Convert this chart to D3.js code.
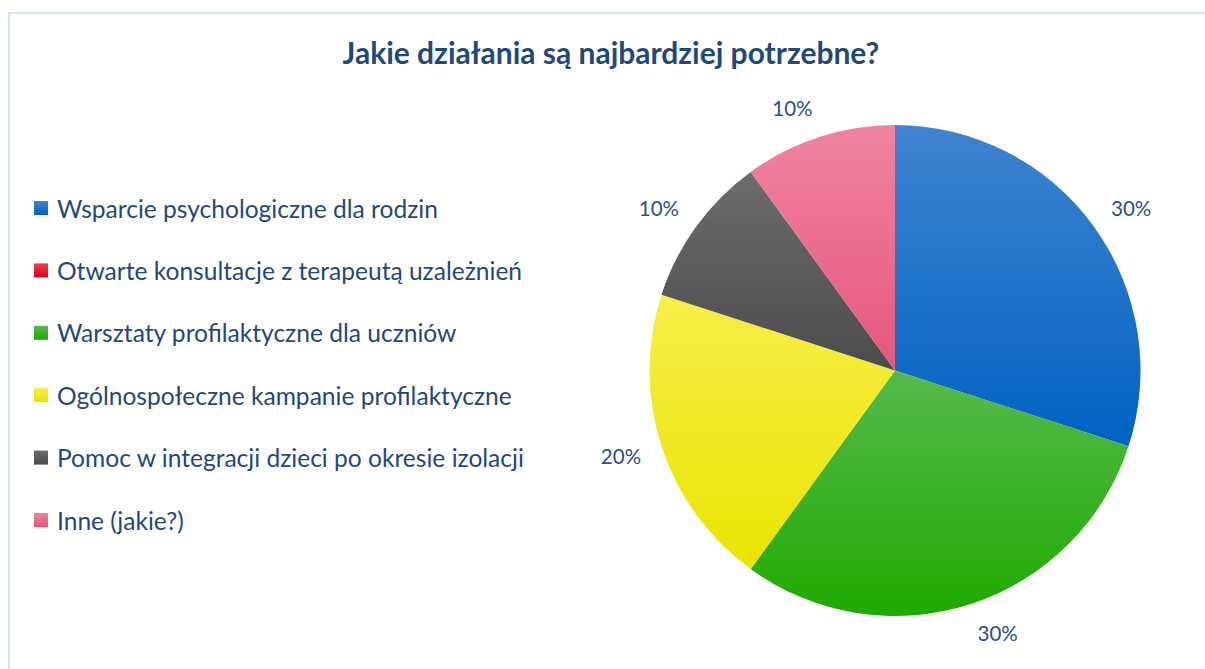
<!DOCTYPE html>
<html>
<head>
<meta charset="utf-8">
<script src="https://cdn.jsdelivr.net/npm/d3@7"></script>
<style>
  html, body { margin: 0; padding: 0; background: #fff; }
  svg { display: block; }
</style>
</head>
<body>
<svg id="chart" width="1205" height="669"></svg>
<script>
// Survey answers: "What actions are most needed?"
const categories = [
  "Wsparcie psychologiczne dla rodzin",
  "Otwarte konsultacje z terapeutą uzależnień",
  "Warsztaty profilaktyczne dla uczniów",
  "Ogólnospołeczne kampanie profilaktyczne",
  "Pomoc w integracji dzieci po okresie izolacji",
  "Inne (jakie?)"
];
const shares = [30, 0, 30, 20, 10, 10];
// Each slice: [light top, darker bottom]
const sliceColors = [
  ["#3f84d0", "#0063c2"],
  ["#f0404e", "#e00018"],
  ["#56ba4c", "#1faa00"],
  ["#f6ef48", "#ebe400"],
  ["#6c6c6c", "#4c4c4c"],
  ["#f0849e", "#e6567e"]
];
const title = "Jakie działania są najbardziej potrzebne?";

const W = 1205, H = 669;
const svg = d3.select("#chart");
const defs = svg.append("defs");

const textColor = "#1f497d";
const font = "Lato, 'Open Sans', sans-serif";

// Frame of the chart area
svg.append("path")
  .attr("d", `M9,${H} L9,13 L${W},13`)
  .attr("fill", "none")
  .attr("stroke", "#d4e3f6")
  .attr("stroke-width", 2);

// Title, fitted to its width
const titleEl = svg.append("text")
  .attr("x", 611).attr("y", 64)
  .attr("text-anchor", "middle")
  .attr("font-family", font)
  .attr("font-weight", 700)
  .attr("font-size", 26)
  .attr("fill", textColor)
  .text(title);
{
  const w = titleEl.node().getComputedTextLength();
  titleEl.attr("font-size", 26 * 537 / w);
}

// Gradients, one per slice
sliceColors.forEach((c, i) => {
  const g = defs.append("linearGradient")
    .attr("id", "grad" + i)
    .attr("x1", 0).attr("y1", 0).attr("x2", 0).attr("y2", 1);
  g.append("stop").attr("offset", "0%").attr("stop-color", c[0]);
  g.append("stop").attr("offset", "100%").attr("stop-color", c[1]);
});

// Pie
const cx = 895, cy = 370.5, R = 245.5;
const pie = d3.pie().sort(null).value(d => d.v);
const data = categories.map((name, i) => ({ name, v: shares[i], i }));
const arcs = pie(data);
const arc = d3.arc().innerRadius(0).outerRadius(R);

const gPie = svg.append("g").attr("transform", `translate(${cx},${cy})`);
gPie.selectAll("path")
  .data(arcs.filter(d => d.data.v > 0))
  .join("path")
  .attr("d", arc)
  .attr("fill", d => `url(#grad${d.data.i})`);

// Outside-end percentage labels
const total = d3.sum(shares);
const labelFmt = d3.format(".0%");
arcs.filter(d => d.data.v > 0).forEach(d => {
  const a = (d.startAngle + d.endAngle) / 2;
  const t = gPie.append("text")
    .attr("font-family", font)
    .attr("font-size", 20.5)
    .attr("fill", "#2a5088")
    .attr("text-anchor", "middle")
    .attr("dominant-baseline", "central")
    .text(labelFmt(d.data.v / total));
  const bb = t.node().getBBox();
  const rr = R + 21.5;
  const x = rr * Math.sin(a) + Math.sign(Math.sin(a)) * bb.width / 2;
  const y = -rr * Math.cos(a) - Math.cos(a) * 9;
  t.attr("x", x).attr("y", y);
});

// Legend
const legendY = d3.scalePoint().domain(categories).range([208, 520]);
const gLeg = svg.append("g");
const items = gLeg.selectAll("g")
  .data(data)
  .join("g")
  .attr("transform", d => `translate(34,${legendY(d.name)})`);
items.append("rect")
  .attr("x", 0).attr("y", -7).attr("width", 14).attr("height", 14)
  .attr("fill", d => `url(#grad${d.i})`);
const labels = items.append("text")
  .attr("x", 23).attr("y", 0)
  .attr("dominant-baseline", "central")
  .attr("font-family", font)
  .attr("font-size", 21)
  .attr("fill", textColor)
  .text(d => d.name);
{
  const maxW = d3.max(labels.nodes(), n => n.getComputedTextLength());
  labels.attr("font-size", 21 * 467 / maxW);
}
</script>
</body>
</html>
